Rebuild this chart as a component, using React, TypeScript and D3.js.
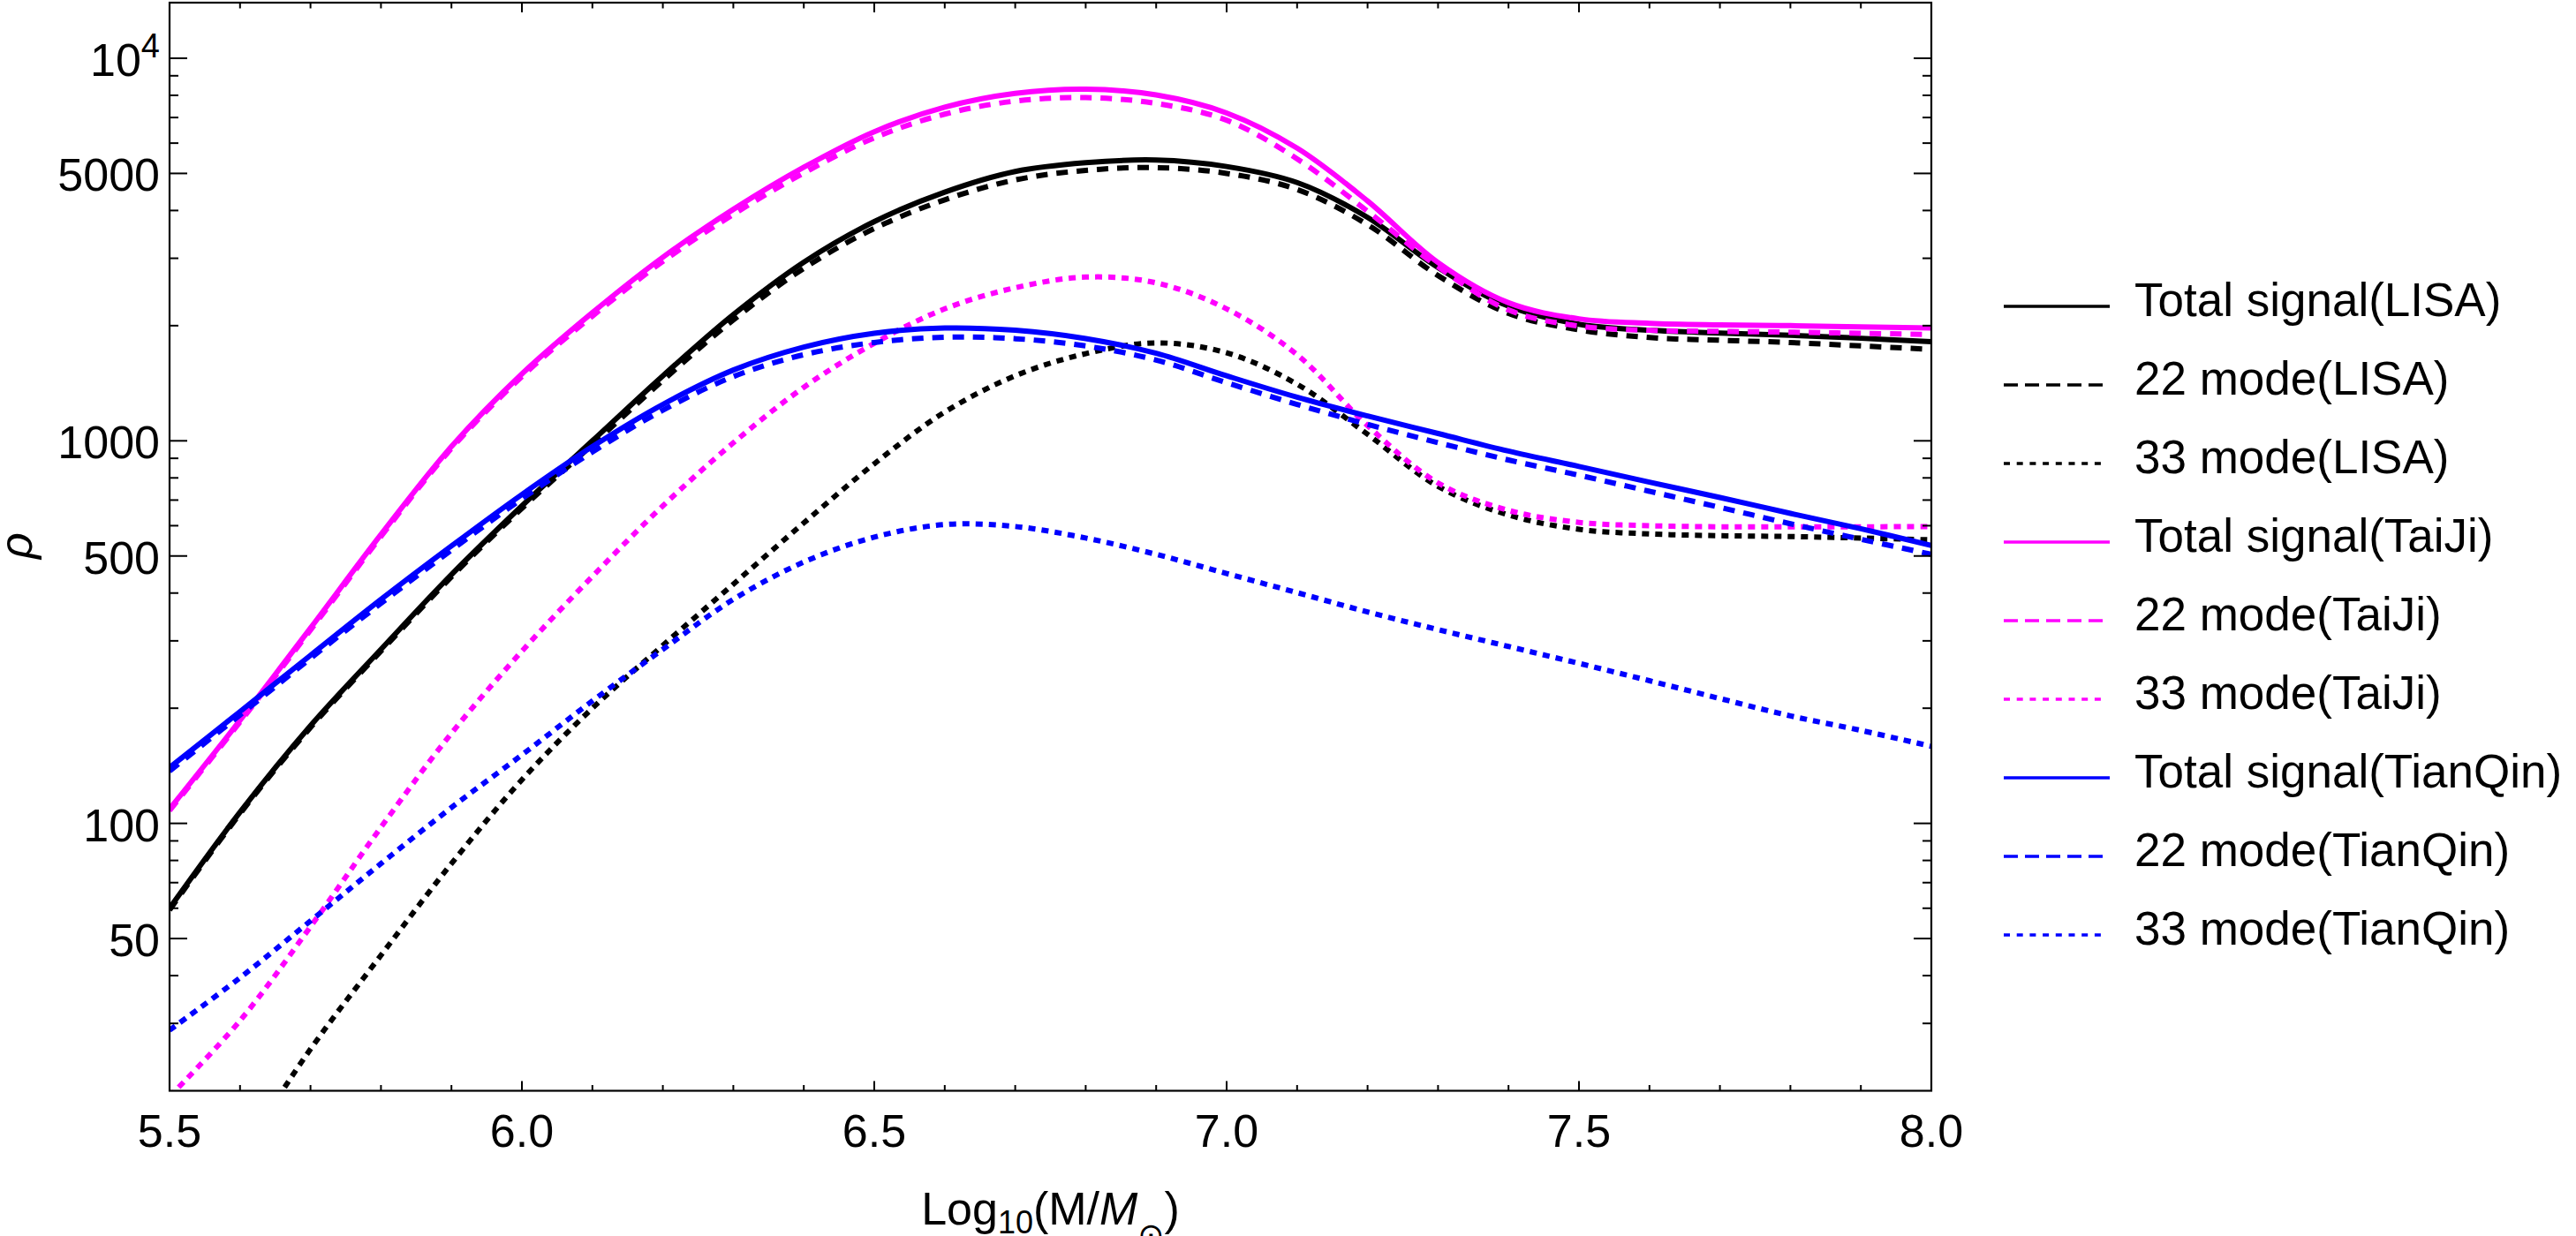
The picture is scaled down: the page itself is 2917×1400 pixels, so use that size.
import { useEffect, useRef } from 'react';
import * as d3 from 'd3';

// log10(M/Msun) grid, one value every 0.1
const massGrid = [5.5, 5.6, 5.7, 5.8, 5.9, 6.0, 6.1, 6.2, 6.3, 6.4, 6.5, 6.6, 6.7, 6.8, 6.9, 7.0, 7.1, 7.2, 7.3, 7.4, 7.5, 7.6, 7.7, 7.8, 7.9, 8.0];

// SNR
const lisaTotal = [60, 107, 180, 285, 447, 676, 1000, 1479, 2138, 2931, 3741, 4467, 5058, 5333, 5420, 5212, 4732, 3837, 2838, 2249, 2018, 1945, 1914, 1888, 1854, 1816];
const lisa22 = [59.4, 106, 178, 282, 441, 666, 977, 1438, 2070, 2824, 3589, 4266, 4808, 5093, 5176, 5000, 4539, 3673, 2704, 2153, 1950, 1862, 1832, 1807, 1770, 1734];
const lisa33 = [7, 13.5, 25.7, 45.2, 78.5, 130, 200, 292, 422, 610, 871, 1189, 1479, 1690, 1803, 1698, 1406, 1040, 760, 640, 587, 571, 565, 562, 557, 551];

const taijiTotal = [109, 186, 324, 569, 966, 1496, 2163, 3020, 4027, 5188, 6427, 7447, 8091, 8299, 8017, 7194, 5821, 4236, 2924, 2296, 2084, 2028, 2009, 2000, 1986, 1972];
const taiji22 = [108, 184, 320, 562, 955, 1472, 2118, 2944, 3908, 5012, 6194, 7145, 7727, 7889, 7621, 6887, 5458, 3981, 2851, 2198, 1995, 1945, 1932, 1923, 1910, 1897];
const taiji33 = [19.3, 30.5, 53.7, 97.7, 172, 282, 442, 676, 988, 1380, 1799, 2213, 2512, 2679, 2588, 2213, 1679, 1096, 776, 658, 612, 600, 596, 596, 596, 597];

const tianqinTotal = [140, 196, 275, 385, 531, 724, 966, 1245, 1531, 1758, 1910, 1972, 1945, 1850, 1694, 1479, 1300, 1161, 1045, 940, 857, 780, 711, 646, 589, 533];
const tianqin22 = [137, 192, 270, 376, 518, 705, 935, 1202, 1472, 1679, 1807, 1866, 1849, 1770, 1626, 1419, 1245, 1104, 989, 891, 813, 738, 670, 607, 553, 505];
const tianqin33 = [28.8, 39.5, 55.6, 78.5, 110, 151, 209, 285, 385, 482, 560, 604, 597, 557, 505, 450, 401, 357, 321, 290, 262, 236, 212, 191, 175, 159];

const seriesLabels = [
  'Total signal(LISA)', '22 mode(LISA)', '33 mode(LISA)',
  'Total signal(TaiJi)', '22 mode(TaiJi)', '33 mode(TaiJi)',
  'Total signal(TianQin)', '22 mode(TianQin)', '33 mode(TianQin)',
];

// axis ticks
const xMajor = [5.5, 6.0, 6.5, 7.0, 7.5, 8.0];
const xMajorLabels = ['5.5', '6.0', '6.5', '7.0', '7.5', '8.0'];
const xMinor = [5.6, 5.7, 5.8, 5.9, 6.1, 6.2, 6.3, 6.4, 6.6, 6.7, 6.8, 6.9, 7.1, 7.2, 7.3, 7.4, 7.6, 7.7, 7.8, 7.9];
const yMajor = [50, 100, 500, 1000, 5000, 10000];
const yMajorLabels = ['50', '100', '500', '1000', '5000', '10^4'];
const yMinor = [30, 40, 60, 70, 80, 90, 200, 300, 400, 600, 700, 800, 900, 2000, 3000, 4000, 6000, 7000, 8000, 9000];

const FONT = "'Liberation Sans', Arial, Helvetica, sans-serif";
const W = 2917;
const H = 1400;

export default function App() {
  const svgRef = useRef<SVGSVGElement>(null);

  useEffect(() => {
    if (!svgRef.current) return;
    const svg = d3.select(svgRef.current);
    svg.selectAll('*').remove();

    const plot = { left: 192, right: 2187, top: 3, bottom: 1235.5 };

    const x = d3.scaleLinear().domain([5.5, 8.0]).range([plot.left, plot.right]);
    const y = d3.scaleLog().domain([20, 13975]).range([plot.bottom, plot.top]);

    const styles = [
      { values: lisaTotal, color: '#000000', dash: 'solid' },
      { values: lisa22, color: '#000000', dash: 'dashed' },
      { values: lisa33, color: '#000000', dash: 'dotted' },
      { values: taijiTotal, color: '#ff00ff', dash: 'solid' },
      { values: taiji22, color: '#ff00ff', dash: 'dashed' },
      { values: taiji33, color: '#ff00ff', dash: 'dotted' },
      { values: tianqinTotal, color: '#0000ff', dash: 'solid' },
      { values: tianqin22, color: '#0000ff', dash: 'dashed' },
      { values: tianqin33, color: '#0000ff', dash: 'dotted' },
    ];
    const plotDash: Record<string, string | null> = { solid: null, dashed: '13,10', dotted: '8,7' };
    const legendDash: Record<string, string | null> = { solid: null, dashed: '16,8', dotted: '7,7.7' };

    svg.append('rect').attr('width', W).attr('height', H).attr('fill', '#ffffff');

    svg.append('defs').append('clipPath').attr('id', 'plot-clip')
      .append('rect')
      .attr('x', plot.left).attr('y', plot.top)
      .attr('width', plot.right - plot.left).attr('height', plot.bottom - plot.top);

    // curves
    const line = d3.line<number>()
      .x((_, i) => x(massGrid[i]))
      .y((d) => y(d))
      .curve(d3.curveCatmullRom.alpha(0.5));

    const curves = svg.append('g').attr('clip-path', 'url(#plot-clip)');
    styles.forEach((s) => {
      const path = curves.append('path')
        .attr('d', line(s.values) as string)
        .attr('fill', 'none')
        .attr('stroke', s.color)
        .attr('stroke-width', 6);
      const da = plotDash[s.dash];
      if (da) path.attr('stroke-dasharray', da);
    });

    // frame
    svg.append('rect')
      .attr('x', plot.left).attr('y', plot.top)
      .attr('width', plot.right - plot.left).attr('height', plot.bottom - plot.top)
      .attr('fill', 'none').attr('stroke', '#000').attr('stroke-width', 2.2);

    const ticks = svg.append('g').attr('stroke', '#000').attr('stroke-width', 2);
    const xTick = (v: number, len: number) => {
      ticks.append('line').attr('x1', x(v)).attr('x2', x(v)).attr('y1', plot.bottom).attr('y2', plot.bottom - len);
      ticks.append('line').attr('x1', x(v)).attr('x2', x(v)).attr('y1', plot.top).attr('y2', plot.top + len);
    };
    const yTick = (v: number, len: number) => {
      ticks.append('line').attr('x1', plot.left).attr('x2', plot.left + len).attr('y1', y(v)).attr('y2', y(v));
      ticks.append('line').attr('x1', plot.right).attr('x2', plot.right - len).attr('y1', y(v)).attr('y2', y(v));
    };
    xMajor.forEach((v) => xTick(v, 11));
    xMinor.forEach((v) => xTick(v, 6.5));
    yMajor.forEach((v) => yTick(v, 20));
    yMinor.forEach((v) => yTick(v, 10));

    // tick labels
    const labels = svg.append('g').attr('font-family', FONT).attr('font-size', 52).attr('fill', '#000');
    xMajor.forEach((v, i) => {
      labels.append('text')
        .attr('x', x(v)).attr('y', 1299)
        .attr('text-anchor', 'middle')
        .text(xMajorLabels[i]);
    });
    yMajor.forEach((v, i) => {
      const t = labels.append('text')
        .attr('x', 181).attr('y', y(v) + 20)
        .attr('text-anchor', 'end');
      const lab = yMajorLabels[i];
      if (lab.includes('^')) {
        const [base, exp] = lab.split('^');
        t.append('tspan').text(base);
        t.append('tspan').attr('font-size', 38).attr('dy', -21).text(exp);
      } else {
        t.text(lab);
      }
    });

    // axis titles (the x title runs off the bottom edge, as in the original)
    const xt = svg.append('text')
      .attr('x', (plot.left + plot.right) / 2).attr('y', 1387)
      .attr('text-anchor', 'middle')
      .attr('font-family', FONT).attr('font-size', 52);
    xt.append('tspan').text('Log');
    xt.append('tspan').attr('font-size', 36).attr('dy', 10).text('10');
    xt.append('tspan').attr('dy', -10).text('(M/');
    xt.append('tspan').attr('font-style', 'italic').text('M');
    xt.append('tspan').attr('font-size', 36).attr('dy', 24).attr('font-family', "'DejaVu Sans', sans-serif").text('\u2299');
    xt.append('tspan').attr('dy', -24).text(')');

    svg.append('text')
      .attr('transform', 'translate(36,618) rotate(-90)')
      .attr('text-anchor', 'middle')
      .attr('font-family', FONT).attr('font-size', 52).attr('font-style', 'italic')
      .text('ρ');

    // legend
    const legend = svg.append('g');
    styles.forEach((s, i) => {
      const ly = 347 + i * 89;
      const da = legendDash[s.dash];
      const ln = legend.append('line')
        .attr('x1', 2269).attr('x2', da ? 2381 : 2389)
        .attr('y1', ly).attr('y2', ly)
        .attr('stroke', s.color).attr('stroke-width', 3.5);
      if (da) ln.attr('stroke-dasharray', da);
      legend.append('text')
        .attr('x', 2417).attr('y', ly + 11)
        .attr('font-family', FONT).attr('font-size', 53)
        .text(seriesLabels[i]);
    });
  }, []);

  return (
    <div style={{ position: 'absolute', left: 0, top: 0, width: W, height: H, background: '#fff' }}>
      <svg ref={svgRef} width={W} height={H} />
    </div>
  );
}
